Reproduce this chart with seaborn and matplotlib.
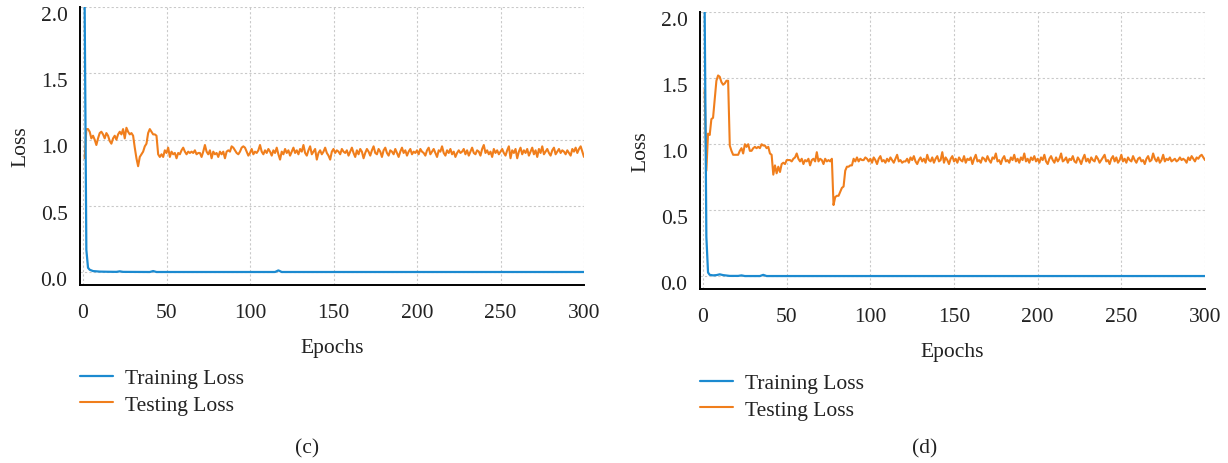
import matplotlib
matplotlib.use("Agg")
import matplotlib.pyplot as plt
import matplotlib.transforms as mtransforms
import seaborn as sns
import pandas as pd

# ---- data ----
train_c_epochs = [1, 2, 3, 4, 5, 6, 8, 10, 14, 20, 22, 24, 40, 42, 44, 115, 117, 119, 300]
train_c_loss = [2.0, 0.17, 0.035, 0.02, 0.015, 0.01, 0.008, 0.006, 0.005, 0.004, 0.008, 0.004,
                0.003, 0.01, 0.003, 0.003, 0.015, 0.003, 0.003]

test_c_loss = [
    0.86, 1.08, 1.08, 1.06, 1.01, 1.03, 1.00, 0.96, 1.01, 1.05,
    1.06, 1.04, 1.01, 1.05, 1.03, 0.99, 0.97, 1.01, 1.03, 1.00,
    1.04, 1.06, 1.04, 1.08, 1.01, 1.09, 1.06, 1.04, 1.05, 1.03,
    0.94, 0.86, 0.80, 0.87, 0.89, 0.91, 0.95, 0.97, 1.05, 1.08,
    1.06, 1.04, 1.04, 1.03, 0.89, 0.87, 0.89, 0.87, 0.92, 0.90,
    0.94, 0.87, 0.91, 0.89, 0.90, 0.86, 0.90, 0.89, 0.92, 0.94,
    0.91, 0.89, 0.91, 0.90, 0.91, 0.90, 0.92, 0.89, 0.90, 0.90,
    0.87, 0.91, 0.96, 0.91, 0.89, 0.92, 0.86, 0.91, 0.89, 0.90,
    0.87, 0.91, 0.89, 0.91, 0.86, 0.91, 0.92, 0.91, 0.95, 0.94,
    0.92, 0.90, 0.89, 0.91, 0.94, 0.95, 0.94,
    0.91, 0.88, 0.90, 0.93, 0.89, 0.91, 0.90, 0.92, 0.96, 0.91,
    0.89, 0.92, 0.90, 0.93, 0.91, 0.88, 0.92, 0.90, 0.94, 0.89,
    0.85, 0.91, 0.89, 0.93, 0.90, 0.92, 0.88, 0.91, 0.94, 0.90,
    0.92, 0.89, 0.93, 0.91, 0.96, 0.90, 0.88, 0.92, 0.95, 0.89,
    0.91, 0.93, 0.85, 0.90, 0.92, 0.89, 0.91, 0.94, 0.90, 0.88,
    0.85, 0.91, 0.93, 0.90, 0.92, 0.91, 0.89, 0.93, 0.91, 0.90,
    0.92, 0.88, 0.91, 0.94, 0.90, 0.87, 0.92, 0.89, 0.93, 0.91,
    0.86, 0.90, 0.93, 0.91, 0.88, 0.92, 0.95, 0.90, 0.89, 0.93,
    0.91, 0.87, 0.92, 0.94, 0.90, 0.88, 0.92, 0.91, 0.89, 0.93,
    0.90, 0.87, 0.91, 0.94, 0.90, 0.92, 0.88, 0.91, 0.93, 0.89,
    0.91, 0.90, 0.92, 0.89, 0.93, 0.91, 0.90, 0.88, 0.92, 0.94,
    0.89, 0.91, 0.93, 0.90, 0.87, 0.92, 0.91, 0.95, 0.90, 0.88,
    0.92, 0.90, 0.93, 0.89, 0.91, 0.87, 0.90, 0.92, 0.90, 0.91,
    0.93, 0.89, 0.92, 0.88, 0.91, 0.94, 0.90, 0.89, 0.92, 0.91,
    0.88, 0.93, 0.96, 0.90, 0.92, 0.89, 0.91, 0.87, 0.93, 0.90,
    0.92, 0.89, 0.91, 0.93, 0.90, 0.88, 0.92, 0.95, 0.86, 0.92,
    0.90, 0.93, 0.86, 0.91, 0.94, 0.89, 0.92, 0.90, 0.93, 0.88,
    0.91, 0.94, 0.89, 0.92, 0.87, 0.93, 0.90, 0.95, 0.89, 0.91,
    0.93, 0.90, 0.88, 0.92, 0.94, 0.89, 0.91, 0.93, 0.90, 0.92,
    0.91, 0.89, 0.92, 0.90, 0.88, 0.93, 0.91, 0.94, 0.90, 0.93,
    0.95, 0.91, 0.87,
]

train_d_epochs = [1, 2, 3, 4, 6, 8, 10, 12, 16, 21, 23, 25, 34, 36, 38, 300]
train_d_loss = [2.0, 0.3, 0.03, 0.012, 0.008, 0.01, 0.016, 0.01, 0.004, 0.004, 0.008,
                0.003, 0.003, 0.012, 0.003, 0.003]

test_d_loss = [
    1.41, 0.80, 1.08, 1.07, 1.19, 1.20, 1.34, 1.48, 1.52, 1.51,
    1.47, 1.45, 1.46, 1.48, 1.48, 0.99, 0.95, 0.92, 0.92, 0.92,
    0.92, 0.95, 0.97, 0.93, 1.00, 0.98, 1.00, 0.95, 0.95, 0.97,
    0.98, 0.97, 0.98, 0.97, 1.00, 0.99, 0.99, 0.97, 0.98, 0.93,
    0.92, 0.77, 0.84, 0.78, 0.83, 0.79, 0.85, 0.86, 0.85, 0.88,
    0.88, 0.88, 0.87, 0.89, 0.90, 0.93, 0.89, 0.87, 0.89, 0.85,
    0.88, 0.87, 0.89, 0.84, 0.88, 0.89, 0.87, 0.94, 0.87, 0.89,
    0.88, 0.85, 0.89, 0.87, 0.88, 0.87, 0.89, 0.54, 0.60, 0.61,
    0.61, 0.64, 0.67, 0.68, 0.80, 0.83, 0.83, 0.84, 0.84, 0.89,
    0.87, 0.90, 0.87, 0.89, 0.88, 0.88, 0.90, 0.89,
    0.87, 0.89, 0.86, 0.90, 0.88, 0.85, 0.89, 0.91, 0.87, 0.88,
    0.86, 0.89, 0.87, 0.90, 0.88, 0.86, 0.89, 0.92, 0.87, 0.88,
    0.86, 0.87, 0.87, 0.89, 0.86, 0.90, 0.88, 0.91, 0.87, 0.85,
    0.88, 0.90, 0.87, 0.89, 0.86, 0.92, 0.88, 0.87, 0.90, 0.86,
    0.89, 0.91, 0.87, 0.88, 0.94, 0.86, 0.90, 0.88, 0.85, 0.89,
    0.91, 0.87, 0.89, 0.86, 0.90, 0.88, 0.87, 0.91, 0.86, 0.89,
    0.88, 0.90, 0.85, 0.89, 0.92, 0.87, 0.88, 0.86, 0.90, 0.89,
    0.87, 0.91, 0.88, 0.86, 0.90, 0.89, 0.93, 0.87, 0.88, 0.85,
    0.89, 0.91, 0.87, 0.88, 0.86, 0.90, 0.88, 0.92, 0.87, 0.89,
    0.86, 0.90, 0.88, 0.93, 0.87, 0.89, 0.86, 0.90, 0.88, 0.91,
    0.87, 0.89, 0.86, 0.90, 0.88, 0.92, 0.87, 0.85, 0.89, 0.91,
    0.88, 0.86, 0.90, 0.87, 0.89, 0.93, 0.87, 0.88, 0.90, 0.86,
    0.89, 0.88, 0.91, 0.87, 0.86, 0.90, 0.88, 0.85, 0.89, 0.92,
    0.87, 0.89, 0.86, 0.90, 0.88, 0.87, 0.91, 0.89, 0.86, 0.88,
    0.90, 0.92, 0.87, 0.88, 0.85, 0.89, 0.91, 0.87, 0.90, 0.86,
    0.88, 0.92, 0.87, 0.89, 0.86, 0.90, 0.88, 0.87, 0.91, 0.88,
    0.86, 0.89, 0.90, 0.87, 0.88, 0.85, 0.89, 0.91, 0.87, 0.88,
    0.93, 0.89, 0.87, 0.90, 0.86, 0.88, 0.92, 0.87, 0.89, 0.88,
    0.90, 0.87, 0.88, 0.89, 0.87, 0.88, 0.90, 0.88, 0.89, 0.88,
    0.86, 0.90, 0.88, 0.91, 0.89, 0.87, 0.90, 0.89, 0.91, 0.92,
    0.90, 0.88,
]

x_ticks = [0, 50, 100, 150, 200, 250, 300]
y_ticks = [0.0, 0.5, 1.0, 1.5, 2.0]
captions = ["(c)", "(d)"]

BLUE = "#1b8ad0"
ORANGE = "#f07e1c"

sns.set_style("white")
plt.rcParams["font.family"] = ["Liberation Serif", "DejaVu Serif"]
plt.rcParams["font.size"] = 15

fig = plt.figure(figsize=(12.28, 4.64), dpi=100)
W, H = 1228, 464

# axes boxes in pixels: left, top, right, bottom
boxes = [(80, 8, 584, 286), (700, 13, 1205, 290)]
legend_pos = [(80, 369), (700, 374)]
caption_pos = [(307, 449), (925, 449)]

panels = [
    (train_c_epochs, train_c_loss, test_c_loss),
    (train_d_epochs, train_d_loss, test_d_loss),
]

# y tick labels sit a little below their grid lines in the reference
shift_down = mtransforms.ScaledTranslation(0, -4 / 72, fig.dpi_scale_trans)

for i, (tr_ep, tr_loss, te_loss) in enumerate(panels):
    l, t, r, b = boxes[i]
    ax = fig.add_axes([l / W, 1 - b / H, (r - l) / W, (b - t) / H])

    train_df = pd.DataFrame({"Epochs": tr_ep, "Loss": tr_loss})
    test_df = pd.DataFrame({"Epochs": list(range(1, len(te_loss) + 1)), "Loss": te_loss})

    sns.lineplot(data=train_df, x="Epochs", y="Loss", ax=ax, color=BLUE, lw=1.6,
                 label="Training Loss", zorder=3)
    sns.lineplot(data=test_df, x="Epochs", y="Loss", ax=ax, color=ORANGE, lw=1.5,
                 label="Testing Loss", zorder=2)

    ax.set_xlim(-1.8, 300)
    ax.set_ylim(-0.095, 2.0)
    ax.set_xticks(x_ticks)
    ax.set_yticks(y_ticks)
    ax.set_yticklabels(["%.1f" % v for v in y_ticks])
    ax.grid(True, color="#c9c9c9", linestyle=(0, (2, 2)), linewidth=0.8)
    for s in ["top", "right"]:
        ax.spines[s].set_visible(False)
    for s in ["left", "bottom"]:
        ax.spines[s].set_color("black")
        ax.spines[s].set_linewidth(1.4)
    ax.tick_params(direction="in", length=3, width=2, colors="black", labelcolor="#222222",
                   labelsize=15.5)
    ax.tick_params(axis="x", pad=13)
    ax.tick_params(axis="y", pad=9)
    for lbl in ax.get_yticklabels():
        lbl.set_transform(lbl.get_transform() + shift_down)
    ax.set_xlabel("Epochs", fontsize=15.5, color="#222222")
    ax.set_ylabel("Loss", fontsize=15.5, color="#222222")
    ax.xaxis.set_label_coords(0.5, -0.19)
    ax.yaxis.set_label_coords(-0.098, 0.5)

    ax.get_legend().remove()
    h, lab = ax.get_legend_handles_labels()
    lx, ly = legend_pos[i]
    fig.legend(h, lab, loc="upper left", bbox_to_anchor=(lx / W, 1 - ly / H),
               frameon=False, fontsize=15.5, handlelength=1.55, handletextpad=0.55,
               labelspacing=0.3, borderpad=0, borderaxespad=0,
               labelcolor="#222222")

    cx, cy = caption_pos[i]
    fig.text(cx / W, 1 - cy / H, captions[i], ha="center", va="center", fontsize=15.5,
             color="#222222")

fig.savefig("out.png", dpi=100)
